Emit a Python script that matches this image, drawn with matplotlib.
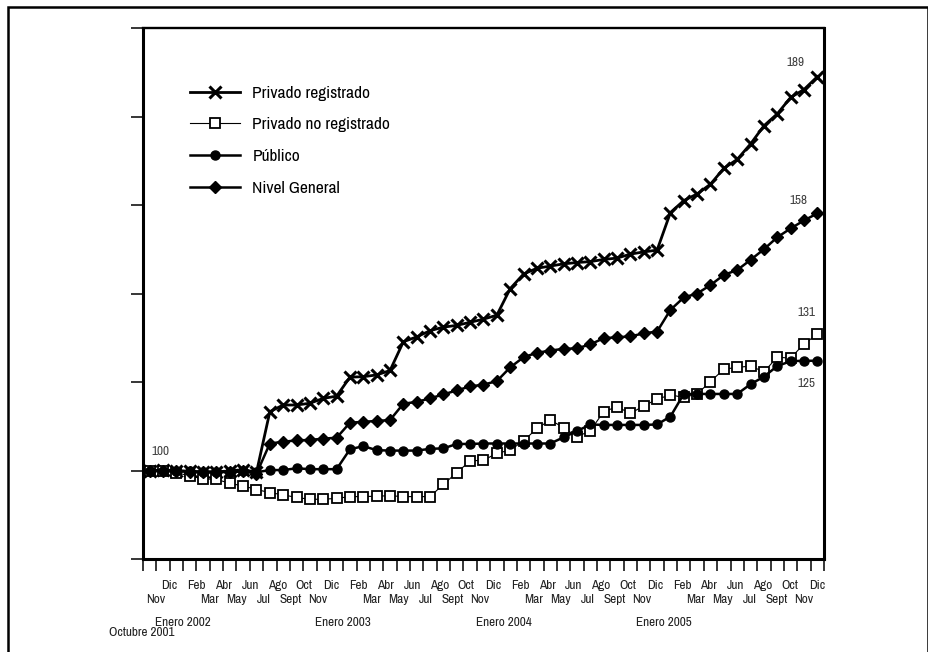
import matplotlib.pyplot as plt
from matplotlib.patches import Rectangle

plt.rcParams['font.family'] = ['Archivo Narrow', 'Liberation Sans', 'DejaVu Sans']

# meses desde octubre 2001 hasta diciembre 2005
ciclo = ['Ene', 'Feb', 'Mar', 'Abr', 'May', 'Jun', 'Jul', 'Ago', 'Sept', 'Oct', 'Nov', 'Dic']
meses = (ciclo * 5)[9:60]
anios = ['Enero 2002', 'Enero 2003', 'Enero 2004', 'Enero 2005']
inicio = 'Octubre 2001'

priv_reg = [100.0, 100.1, 100.0, 99.8, 99.7, 99.7, 99.9, 100.2, 99.6,
            113.3, 114.8, 114.8, 115.2, 116.3, 116.8, 121.1, 121.2, 121.6, 122.6,
            129.1, 130.2, 131.6, 132.4, 132.8, 133.5, 134.2, 135.1, 141.1, 144.4,
            145.7, 146.2, 146.7, 147.0, 147.2, 147.7, 148.0, 148.9, 149.4, 149.8,
            158.3, 161.0, 162.5, 164.7, 168.3, 170.3, 173.8, 177.9, 180.6, 184.3,
            186.1, 189.0]
priv_noreg = [100.0, 99.9, 99.5, 98.8, 98.1, 98.0, 97.1, 96.5, 95.7,
              95.0, 94.5, 93.9, 93.5, 93.5, 93.7, 94.1, 94.1, 94.2, 94.3,
              94.1, 94.1, 94.1, 96.9, 99.5, 102.2, 102.3, 103.9, 104.6, 106.7,
              109.5, 111.4, 109.7, 107.6, 109.0, 113.3, 114.4, 112.9, 114.6, 116.1,
              117.1, 116.5, 117.3, 120.1, 122.9, 123.3, 123.6, 122.3, 125.6, 125.4,
              128.6, 130.8]
publico = [100.0, 100.0, 99.9, 99.8, 99.7, 99.7, 99.7, 99.8, 99.6,
           100.1, 100.1, 100.5, 100.3, 100.3, 100.3, 104.8, 105.5, 104.6, 104.5,
           104.5, 104.5, 104.9, 105.0, 106.0, 106.0, 106.1, 106.1, 106.1, 106.1,
           106.1, 106.1, 107.5, 108.9, 110.4, 110.3, 110.3, 110.3, 110.3, 110.4,
           112.2, 117.3, 117.3, 117.3, 117.3, 117.3, 119.5, 121.2, 123.6, 124.7,
           124.8, 124.8]
nivel = [100.0, 100.0, 99.9, 99.7, 99.6, 99.6, 99.7, 99.8, 99.3,
         106.1, 106.5, 106.8, 106.9, 107.2, 107.4, 110.8, 111.0, 111.2, 111.4,
         115.1, 115.5, 116.3, 117.2, 118.1, 119.0, 119.4, 120.2, 123.3, 125.6,
         126.6, 127.1, 127.5, 127.6, 128.5, 129.9, 130.1, 130.3, 131.0, 131.4,
         136.3, 139.1, 140.0, 141.9, 144.2, 145.3, 147.6, 150.0, 152.7, 154.7,
         156.5, 158.1]

x = list(range(len(meses)))

fig = plt.figure(figsize=(9.29, 6.52), dpi=100)
ax = fig.add_axes([143 / 929, 1 - 559 / 652, 681 / 929, 531 / 652])

ax.plot(x, priv_reg, color='black', lw=2.0, marker='x', ms=8, mew=2.2,
        label='Privado registrado')
ax.plot(x, priv_noreg, color='black', lw=0.8, marker='s', ms=7, mew=1.3,
        mfc='white', mec='black', label='Privado no registrado')
ax.plot(x, publico, color='black', lw=1.8, marker='o', ms=6.5,
        label='Público')
ax.plot(x, nivel, color='black', lw=1.8, marker='D', ms=6,
        label='Nivel General')

ax.set_xlim(-0.5, 50.5)
ax.set_ylim(80, 200)
ax.set_yticks(range(80, 201, 20))
ax.set_yticklabels([])
ax.set_xticks([i - 0.5 for i in range(len(meses) + 1)])
ax.set_xticklabels([])
ax.tick_params(axis='both', direction='out', length=8.5, width=1.1, color='black')

for s in ['left', 'bottom', 'right']:
    ax.spines[s].set_linewidth(2.2)
ax.spines['top'].set_linewidth(1.7)

# etiquetas de meses en dos filas
tr = ax.get_xaxis_transform()
for i, m in enumerate(meses):
    if m == 'Ene' or i == 0:
        continue
    fila = -0.049 if i % 2 == 0 else -0.077
    ax.text(i * 1.01 - 0.54, fila, m, transform=tr, ha='center', va='center',
            fontsize=9.5, color='#222222')
j = 0
for i, m in enumerate(meses):
    if m == 'Ene':
        ax.text(i - 0.5, -0.119, anios[j], transform=tr, ha='center',
                va='center', fontsize=9.5, color='#222222')
        j += 1
ax.text(-0.6, -0.139, inicio, transform=tr, ha='center', va='center',
        fontsize=9.5, color='#222222')

# valores extremos
gris = '#404040'
ax.annotate('100', (0, priv_reg[0]), xytext=(11, 19), textcoords='offset pixels',
            ha='center', va='center', fontsize=9.5, color=gris)
ax.annotate('189', (50, priv_reg[-1]), xytext=(-22, 14), textcoords='offset pixels',
            ha='center', va='center', fontsize=9.5, color=gris)
ax.annotate('158', (50, nivel[-1]), xytext=(-19, 13), textcoords='offset pixels',
            ha='center', va='center', fontsize=9.5, color=gris)
ax.annotate('131', (50, priv_noreg[-1]), xytext=(-11, 22), textcoords='offset pixels',
            ha='center', va='center', fontsize=9.5, color=gris)
ax.annotate('125', (50, publico[-1]), xytext=(-11, -23), textcoords='offset pixels',
            ha='center', va='center', fontsize=9.5, color=gris)

ax.legend(loc='upper left', bbox_to_anchor=(190 / 929, 1 - 85.5 / 652),
          bbox_transform=fig.transFigure, frameon=False, fontsize=12.5,
          handlelength=2.9, handletextpad=0.7, labelspacing=0.95,
          borderpad=0, borderaxespad=0)

# marco exterior
fig.add_artist(Rectangle((8 / 929, -0.1), 920 / 929, 1 - 7 / 652 + 0.1,
                         transform=fig.transFigure, fill=False, lw=1.8,
                         edgecolor='black'))

fig.savefig('out.png', dpi=100)
